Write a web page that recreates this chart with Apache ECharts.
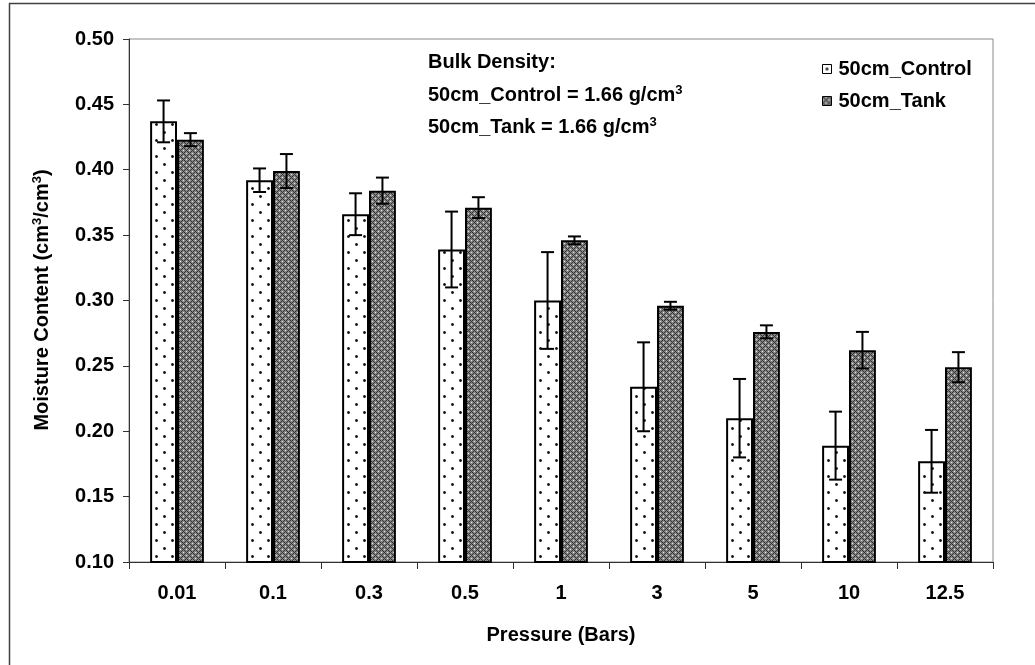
<!DOCTYPE html>
<html>
<head>
<meta charset="utf-8">
<title>Moisture Content vs Pressure</title>
<script src="https://cdn.jsdelivr.net/npm/echarts@6/dist/echarts.min.js"></script>
<style>
  html, body { margin: 0; padding: 0; background: #fff; }
  #chart { width: 1035px; height: 665px; }
</style>
</head>
<body>
<div id="chart"></div>
<script>
// Pressure steps (bars)
const pressures = ['0.01', '0.1', '0.3', '0.5', '1', '3', '5', '10', '12.5'];

// Mean moisture content (cm3/cm3) and standard deviation per pressure step
const controlMean = [0.437, 0.392, 0.366, 0.339, 0.300, 0.234, 0.210, 0.189, 0.177];
const controlErr  = [0.016, 0.009, 0.016, 0.029, 0.037, 0.034, 0.030, 0.026, 0.024];
const tankMean    = [0.423, 0.399, 0.384, 0.371, 0.346, 0.296, 0.276, 0.262, 0.249];
const tankErr     = [0.005, 0.013, 0.010, 0.008, 0.003, 0.003, 0.005, 0.014, 0.0115];

const yTicks = { min: 0.10, max: 0.50, step: 0.05 };

const FONT = '"Liberation Sans", Arial, sans-serif';
const FS = 20;

// Fill patterns: dotted (control) and dark lattice (tank)
function dotPattern() {
  const c = document.createElement('canvas');
  c.width = 16; c.height = 16;
  const g = c.getContext('2d');
  g.fillStyle = '#fff';
  g.fillRect(0, 0, 16, 16);
  g.fillStyle = '#999';
  g.fillRect(3, 3, 3, 3);
  g.fillRect(11, 11, 3, 3);
  g.fillStyle = '#111';
  g.fillRect(4, 4, 1, 1);
  g.fillRect(12, 12, 1, 1);
  g.fillStyle = '#2a2a2a';
  g.fillRect(4, 3, 1, 1); g.fillRect(3, 4, 1, 1); g.fillRect(5, 4, 1, 1); g.fillRect(4, 5, 1, 1);
  g.fillRect(12, 11, 1, 1); g.fillRect(11, 12, 1, 1); g.fillRect(13, 12, 1, 1); g.fillRect(12, 13, 1, 1);
  return c;
}
function latticePattern() {
  const c = document.createElement('canvas');
  c.width = 6; c.height = 6;
  const g = c.getContext('2d');
  g.fillStyle = '#858585';
  g.fillRect(0, 0, 6, 6);
  g.fillStyle = '#333';
  for (let i = 0; i < 6; i++) {
    g.fillRect(i, i, 1, 1);
    g.fillRect(i, (6 - i) % 6, 1, 1);
  }
  g.fillStyle = '#e6e6e6';
  g.fillRect(3, 0, 1, 1);
  g.fillRect(0, 3, 1, 1);
  return c;
}

const BAR_FRAC = 0.28; // bar width as a share of the category band

function errorSeries(name, means, errs, side) {
  return {
    name: name + ' error',
    type: 'custom',
    z: 5,
    data: means.map((m, i) => [i, m, errs[i]]),
    renderItem(params, api) {
      const idx = api.value(0), m = api.value(1), e = api.value(2);
      const band = api.size([1, 0])[0];
      const dx = side * band * BAR_FRAC / 2;
      const top = api.coord([idx, m + e]);
      const bot = api.coord([idx, m - e]);
      const x = top[0] + dx;
      const cap = 6.5;
      const st = { stroke: '#000', lineWidth: 2 };
      return {
        type: 'group',
        children: [
          { type: 'line', shape: { x1: x, y1: top[1], x2: x, y2: bot[1] }, style: st },
          { type: 'line', shape: { x1: x - cap, y1: top[1], x2: x + cap, y2: top[1] }, style: st },
          { type: 'line', shape: { x1: x - cap, y1: bot[1], x2: x + cap, y2: bot[1] }, style: st }
        ]
      };
    }
  };
}

const chart = echarts.init(document.getElementById('chart'));

const boldText = { fontFamily: FONT, fontWeight: 'bold', fontSize: FS, color: '#000' };
const supText = { fontFamily: FONT, fontWeight: 'bold', fontSize: 13, color: '#000', padding: [0, 0, 10, 0] };

chart.setOption({
  animation: false,
  backgroundColor: '#fff',
  grid: {
    left: 129, right: 42, top: 39, bottom: 103,
    show: true, borderColor: '#8a8a8a', borderWidth: 1
  },
  legend: {
    orient: 'vertical',
    left: 817, top: 53,
    itemWidth: 9, itemHeight: 9,
    itemGap: 10,
    icon: 'rect',
    data: ['50cm_Control', '50cm_Tank'],
    itemStyle: { borderWidth: 1, borderColor: '#000' },
    textStyle: { fontFamily: FONT, fontWeight: 'bold', fontSize: FS, color: '#000', lineHeight: 22, padding: [0, 0, 0, 2] }
  },
  xAxis: {
    type: 'category',
    data: pressures,
    name: 'Pressure (Bars)',
    nameLocation: 'middle',
    nameGap: 63,
    nameTextStyle: { fontFamily: FONT, fontWeight: 'bold', fontSize: FS, color: '#000' },
    axisLine: { lineStyle: { color: '#333', width: 1 } },
    axisTick: { show: true, alignWithLabel: false, length: 7, lineStyle: { color: '#333' } },
    axisLabel: { fontFamily: FONT, fontWeight: 'bold', fontSize: FS, color: '#000', margin: 21 },
    splitLine: { show: false }
  },
  yAxis: {
    type: 'value',
    min: yTicks.min, max: yTicks.max, interval: yTicks.step,
    axisLine: { show: true, lineStyle: { color: '#333', width: 1 } },
    axisTick: { show: true, length: 6, lineStyle: { color: '#333' } },
    axisLabel: {
      fontFamily: FONT, fontWeight: 'bold', fontSize: FS, color: '#000', margin: 15,
      formatter: v => v.toFixed(2)
    },
    splitLine: { show: false }
  },
  graphic: [
    {
      type: 'rect', silent: true, z: 100,
      shape: { x: 9.5, y: 3.5, width: 1100, height: 1100 },
      style: { fill: 'none', stroke: '#404040', lineWidth: 1.5 }
    },
    {
      type: 'text', x: 42, y: 300, rotation: Math.PI / 2,
      style: {
        text: '{b|Moisture Content (cm}{s|3}{b|/cm}{s|3}{b|)}',
        rich: { b: boldText, s: supText },
        align: 'center', verticalAlign: 'middle'
      }
    },
    {
      type: 'text', x: 428, y: 62,
      style: { text: 'Bulk Density:', font: 'bold ' + FS + 'px ' + FONT, fill: '#000', align: 'left', verticalAlign: 'middle' }
    },
    {
      type: 'text', x: 428, y: 95,
      style: {
        text: '{b|50cm_Control = 1.66 g/cm}{s|3}',
        rich: { b: boldText, s: supText }, align: 'left', verticalAlign: 'middle'
      }
    },
    {
      type: 'text', x: 428, y: 127,
      style: {
        text: '{b|50cm_Tank = 1.66 g/cm}{s|3}',
        rich: { b: boldText, s: supText }, align: 'left', verticalAlign: 'middle'
      }
    }
  ],
  series: [
    {
      name: '50cm_Control',
      type: 'bar',
      data: controlMean,
      barWidth: (BAR_FRAC * 100) + '%',
      barGap: '0%',
      itemStyle: {
        color: { image: dotPattern(), repeat: 'repeat' },
        borderColor: '#000', borderWidth: 2
      }
    },
    {
      name: '50cm_Tank',
      type: 'bar',
      data: tankMean,
      barWidth: (BAR_FRAC * 100) + '%',
      barGap: '0%',
      itemStyle: {
        color: { image: latticePattern(), repeat: 'repeat' },
        borderColor: '#000', borderWidth: 2
      }
    },
    errorSeries('50cm_Control', controlMean, controlErr, -1),
    errorSeries('50cm_Tank', tankMean, tankErr, 1)
  ]
});
</script>
</body>
</html>
